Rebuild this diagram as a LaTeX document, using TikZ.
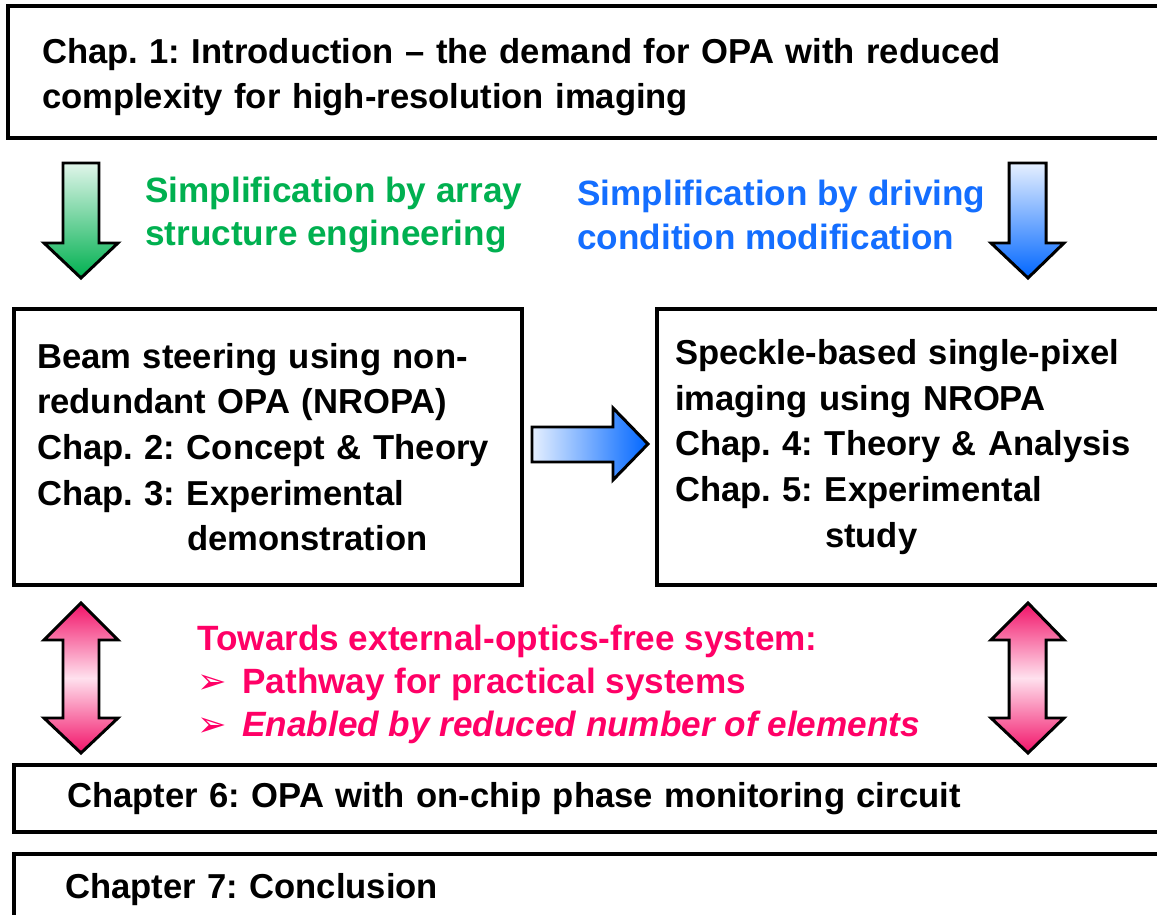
\documentclass[tikz,border=0pt]{standalone}
\usepackage{fontspec}
\setmainfont{Liberation Sans}
\newfontfamily\dingfont{DejaVu Sans}
\frenchspacing
\hyphenpenalty=10000
\exhyphenpenalty=10000

\definecolor{simpgreen}{RGB}{0,176,80}
\definecolor{simpblue}{RGB}{20,110,255}
\definecolor{arrowblue}{RGB}{0,102,255}
\definecolor{towardpink}{RGB}{255,0,102}
\definecolor{pinkend}{RGB}{242,18,104}
\definecolor{pinkmid}{RGB}{255,225,238}

\begin{document}
\begin{tikzpicture}[
			x = 0.02cm, y = -0.02cm,
			chapbox/.style = {draw, line width=2.3pt, anchor=north west, align=left,
				font=\bfseries\fontsize{19.7}{25.6}\selectfont},
			label/.style = {anchor=west, align=left, inner sep=0pt,
				font=\bfseries\fontsize{20}{25}\selectfont},
			blockarrow/.style = {draw, line width=1.7pt, line join=miter}
			]

			\useasboundingbox (0,0) rectangle (1157,915);
			\clip (0,0) rectangle (1157,915);

			% chapter boxes
			\node[chapbox, minimum width=23.4cm, minimum height=2.64cm,
				inner xsep=0.68cm, text width=22.04cm] (intro) at (6,4)
				{\rule{0pt}{20pt}Chap. 1: Introduction -- the demand for OPA with reduced\\
				complexity for high-resolution imaging};

			\node[chapbox, minimum width=10.16cm, minimum height=5.52cm,
				inner xsep=0.46cm, text width=9.24cm,
				font=\bfseries\fontsize{19.7}{26}\selectfont] (steer) at (12,307)
				{Beam steering using non-\\
				redundant OPA (NROPA)\\
				Chap. 2: Concept \& Theory\\
				Chap. 3: Experimental\\
				\hphantom{Chap. 3: }demonstration};

			\node[chapbox, minimum width=10.4cm, minimum height=5.52cm,
				inner xsep=0.36cm, text width=9.68cm,
				font=\bfseries\fontsize{19.7}{26}\selectfont] (speckle) at (655,307)
				{Speckle-based single-pixel\\
				imaging using NROPA\\
				Chap. 4: Theory \& Analysis\\
				Chap. 5: Experimental\\
				\hphantom{Chap. 5: }study};

			\node[chapbox, minimum width=23.2cm, minimum height=1.34cm,
				inner xsep=1.06cm, text width=21.08cm] (monitor) at (12,763)
				{Chapter 6: OPA with on-chip phase monitoring circuit};

			\node[chapbox, minimum width=23.2cm, minimum height=1.44cm,
				inner xsep=1.02cm, text width=21.16cm] (concl) at (12,852)
				{Chapter 7: Conclusion};

			% labels between the boxes
			\node[label, text=simpgreen] (arraylbl) at (145,215)
				{Simplification by array\\structure engineering};
			\node[label, text=simpblue] (drivelbl) at (577,215)
				{Simplification by driving\\condition modification};
			\node[label, text=towardpink, font=\bfseries\fontsize{20}{24.5}\selectfont] (freelbl) at (197,684)
				{Towards external-optics-free system:\\
				\makebox[0.9cm][l]{\dingfont\mdseries\fontsize{20}{20}\selectfont ➢}Pathway for practical systems\\
				\makebox[0.9cm][l]{\dingfont\mdseries\fontsize{20}{20}\selectfont ➢}\itshape Enabled by reduced number of elements};

			% block arrows
			\draw[blockarrow, top color=simpgreen!12, bottom color=simpgreen]
				(63,163) -- (99,163) -- (99,243) -- (118,243) -- (81,278)
				-- (44,243) -- (63,243) -- cycle;
			\draw[blockarrow, top color=arrowblue!10, bottom color=arrowblue]
				(1009,163) -- (1046,163) -- (1046,243) -- (1064,243) -- (1028,278)
				-- (991,243) -- (1009,243) -- cycle;
			\draw[blockarrow, left color=arrowblue!10, right color=arrowblue]
				(532,427) -- (613,427) -- (613,408) -- (648,444) -- (613,480)
				-- (613,462) -- (532,462) -- cycle;
			\draw[blockarrow, top color=pinkend, bottom color=pinkend, middle color=pinkmid]
				(81,603) -- (118,640) -- (99,640) -- (99,718) -- (118,718) -- (81,753)
				-- (44,718) -- (63,718) -- (63,640) -- (44,640) -- cycle;
			\draw[blockarrow, top color=pinkend, bottom color=pinkend, middle color=pinkmid]
				(1028,603) -- (1064,640) -- (1046,640) -- (1046,718) -- (1064,718) -- (1028,753)
				-- (991,718) -- (1009,718) -- (1009,640) -- (991,640) -- cycle;

		\end{tikzpicture}
\end{document}
